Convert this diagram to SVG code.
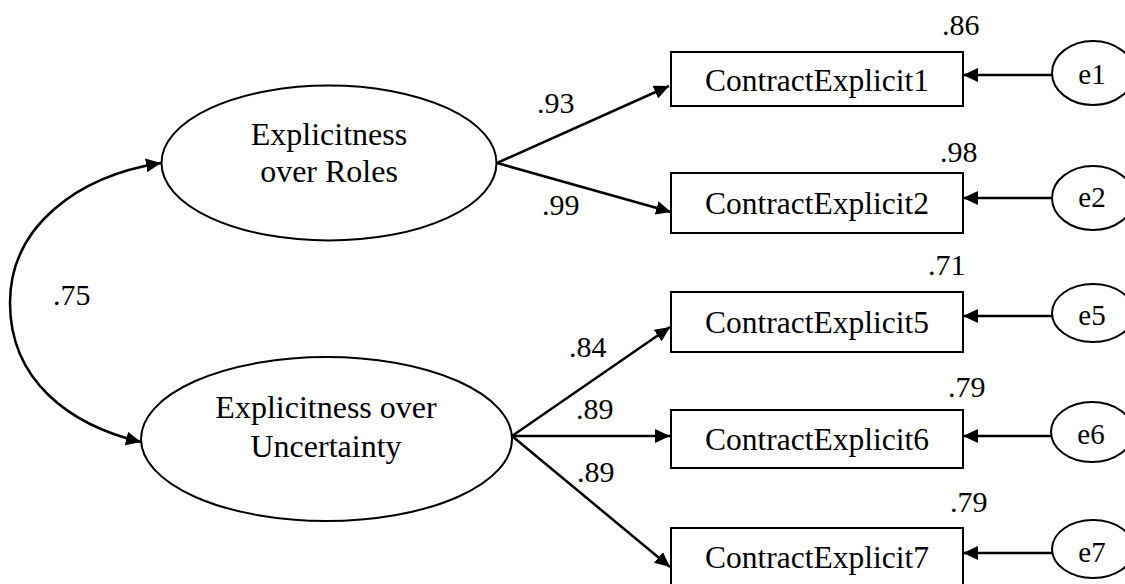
<svg xmlns="http://www.w3.org/2000/svg" width="1125" height="584" viewBox="0 0 1125 584">
  <style>
    .shape { fill: #ffffff; stroke: #000000; stroke-width: 2; }
    .link { fill: none; stroke: #000000; stroke-width: 2.5; marker-end: url(#head); }
    .lbl { font-family: "Liberation Serif", "Times New Roman", serif; fill: #000000; }
    .big { font-size: 32px; text-anchor: middle; }
    .box { font-size: 31.5px; text-anchor: middle; }
    .err { font-size: 29px; text-anchor: middle; }
    .num { font-size: 30px; }
  </style>
  <defs>
    <marker id="head" markerUnits="userSpaceOnUse" markerWidth="16" markerHeight="14" refX="15" refY="7" orient="auto-start-reverse">
      <path d="M0,0 L15,7 L0,14 z" fill="#000000"/>
    </marker>
  </defs>
  <rect width="1125" height="584" fill="#ffffff"/>

  <!-- paths between factors, indicators and error terms -->
  <g id="connectors">
    <path class="link" d="M161,163 C78,176 10,226 10,303 C10,380 69,425 141,442" marker-start="url(#head)"/>
    <line class="link" x1="497" y1="163" x2="669" y2="86"/>
    <line class="link" x1="497" y1="163" x2="671" y2="212"/>
    <line class="link" x1="512" y1="436" x2="670" y2="327"/>
    <line class="link" x1="512" y1="436" x2="670" y2="436"/>
    <line class="link" x1="512" y1="436" x2="670" y2="567"/>
    <line class="link" x1="1052" y1="75" x2="963" y2="75"/>
    <line class="link" x1="1052" y1="198" x2="963" y2="198"/>
    <line class="link" x1="1052" y1="316" x2="963" y2="316"/>
    <line class="link" x1="1052" y1="436" x2="963" y2="436"/>
    <line class="link" x1="1052" y1="553" x2="963" y2="553"/>
  </g>

  <!-- coefficient labels -->
  <g id="coefficients" class="lbl num">
    <text x="53" y="305">.75</text>
    <text x="537" y="113">.93</text>
    <text x="542" y="215">.99</text>
    <text x="569" y="357">.84</text>
    <text x="576" y="419">.89</text>
    <text x="577" y="482">.89</text>
    <text x="942" y="35">.86</text>
    <text x="940" y="162">.98</text>
    <text x="928" y="275">.71</text>
    <text x="948" y="397">.79</text>
    <text x="950" y="512">.79</text>
  </g>

  <!-- latent factors -->
  <g id="factor-roles">
    <ellipse class="shape" cx="329" cy="163" rx="167.5" ry="77.5"/>
    <text class="lbl big" x="329" y="145">Explicitness</text>
    <text class="lbl big" x="329" y="182">over Roles</text>
  </g>
  <g id="factor-uncertainty">
    <ellipse class="shape" cx="326.5" cy="439" rx="185.5" ry="82"/>
    <text class="lbl big" x="326" y="418">Explicitness over</text>
    <text class="lbl big" x="326" y="457">Uncertainty</text>
  </g>

  <!-- observed indicators -->
  <g id="ce1">
    <rect class="shape" x="671" y="52" width="292" height="54"/>
    <text class="lbl box" x="817" y="91">ContractExplicit1</text>
  </g>
  <g id="ce2">
    <rect class="shape" x="671" y="173" width="292" height="60"/>
    <text class="lbl box" x="817" y="214">ContractExplicit2</text>
  </g>
  <g id="ce5">
    <rect class="shape" x="671" y="292" width="292" height="60"/>
    <text class="lbl box" x="817" y="333">ContractExplicit5</text>
  </g>
  <g id="ce6">
    <rect class="shape" x="671" y="410" width="292" height="58"/>
    <text class="lbl box" x="817" y="450">ContractExplicit6</text>
  </g>
  <g id="ce7">
    <rect class="shape" x="671" y="528" width="292" height="60"/>
    <text class="lbl box" x="817" y="568">ContractExplicit7</text>
  </g>

  <!-- error terms -->
  <g id="e1">
    <ellipse class="shape" cx="1093" cy="73" rx="41" ry="32"/>
    <text class="lbl err" x="1092" y="84">e1</text>
  </g>
  <g id="e2">
    <ellipse class="shape" cx="1093" cy="198" rx="41" ry="32"/>
    <text class="lbl err" x="1092" y="207">e2</text>
  </g>
  <g id="e5">
    <ellipse class="shape" cx="1093" cy="313" rx="41" ry="29"/>
    <text class="lbl err" x="1092" y="325">e5</text>
  </g>
  <g id="e6">
    <ellipse class="shape" cx="1092" cy="432" rx="41" ry="30"/>
    <text class="lbl err" x="1091" y="444">e6</text>
  </g>
  <g id="e7">
    <ellipse class="shape" cx="1093" cy="549" rx="41" ry="29"/>
    <text class="lbl err" x="1092" y="562">e7</text>
  </g>
</svg>
